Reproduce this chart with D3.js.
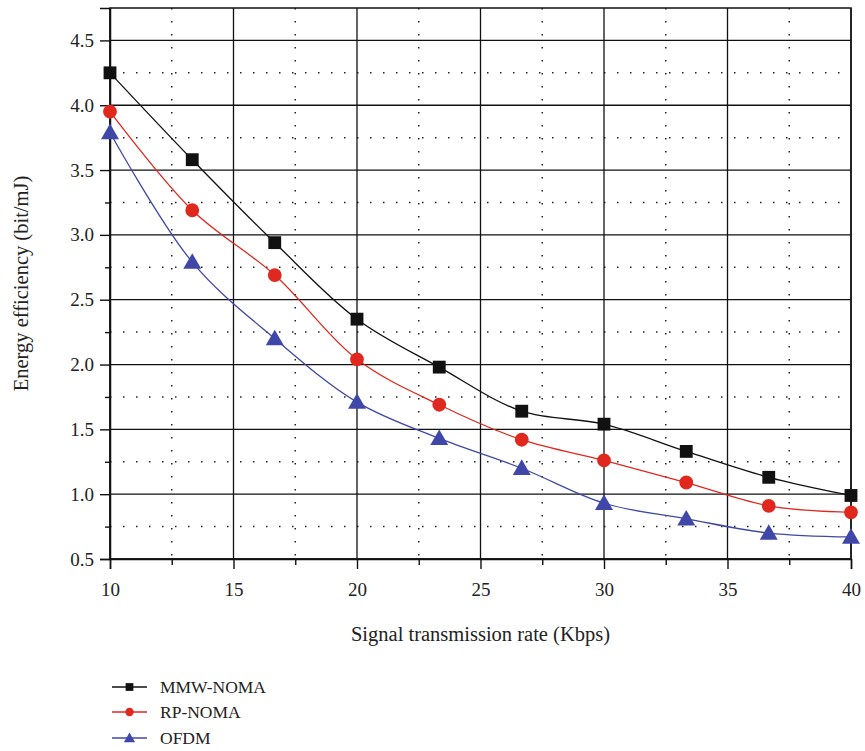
<!DOCTYPE html>
<html>
<head>
<meta charset="utf-8">
<script src="https://cdn.jsdelivr.net/npm/d3@7"></script>
<style>
  body { margin: 0; background: #fff; }
  text { font-family: "Liberation Serif", "DejaVu Serif", serif; fill: #222; }
</style>
</head>
<body>
<div id="chart"></div>
<script>
var rates = [10, 13.33, 16.67, 20, 23.33, 26.67, 30, 33.33, 36.67, 40];
var mmwNoma = [4.25, 3.58, 2.94, 2.35, 1.98, 1.64, 1.54, 1.33, 1.13, 0.99];
var rpNoma = [3.95, 3.19, 2.69, 2.04, 1.69, 1.42, 1.26, 1.09, 0.91, 0.86];
var ofdm = [3.79, 2.79, 2.2, 1.71, 1.43, 1.2, 0.93, 0.81, 0.7, 0.67];
var seriesNames = ['MMW-NOMA', 'RP-NOMA', 'OFDM'];
var xTicks = [10, 15, 20, 25, 30, 35, 40];
var yTicks = [0.5, 1.0, 1.5, 2.0, 2.5, 3.0, 3.5, 4.0, 4.5];

const W = 865, H = 751;
const plotLeft = 110, plotRight = 851, plotTop = 8, plotBottom = 559;

var svg = d3.select('#chart').append('svg')
  .attr('width', W)
  .attr('height', H);

var x = d3.scaleLinear().domain([10, 40]).range([plotLeft, plotRight]);
var y = d3.scaleLinear().domain([0.5, 4.75]).range([plotBottom, plotTop]);

// minor (dotted) grid
var xMinor = d3.range(12.5, 40, 5);
var yMinor = d3.range(0.75, 4.75, 0.5);

svg.selectAll('.vminor').data(xMinor).enter().append('line')
  .attr('x1', (d) => x(d)).attr('x2', (d) => x(d))
  .attr('y1', plotTop).attr('y2', plotBottom)
  .attr('stroke', '#222').attr('stroke-width', 1.5)
  .attr('stroke-dasharray', '1.5,11.5');
svg.selectAll('.hminor').data(yMinor).enter().append('line')
  .attr('x1', plotLeft).attr('x2', plotRight)
  .attr('y1', (d) => y(d)).attr('y2', (d) => y(d))
  .attr('stroke', '#222').attr('stroke-width', 1.5)
  .attr('stroke-dasharray', '1.5,11.5');

// major grid
svg.selectAll('.vmajor').data(xTicks).enter().append('line')
  .attr('x1', (d) => x(d)).attr('x2', (d) => x(d))
  .attr('y1', plotTop).attr('y2', plotBottom)
  .attr('stroke', '#111').attr('stroke-width', 1.3);
svg.selectAll('.hmajor').data(yTicks).enter().append('line')
  .attr('x1', plotLeft).attr('x2', plotRight)
  .attr('y1', (d) => y(d)).attr('y2', (d) => y(d))
  .attr('stroke', '#111').attr('stroke-width', 1.3);

// frame
svg.append('rect')
  .attr('x', plotLeft).attr('y', plotTop)
  .attr('width', plotRight - plotLeft).attr('height', plotBottom - plotTop)
  .attr('fill', 'none').attr('stroke', '#111').attr('stroke-width', 1.5);

// axes
svg.append('g')
  .attr('transform', `translate(0,${plotBottom})`)
  .call(d3.axisBottom(x).tickValues(xTicks).tickSize(10).tickPadding(14).tickFormat(d3.format('d')));
svg.append('g')
  .attr('transform', `translate(0,${plotBottom})`)
  .call(d3.axisBottom(x).tickValues(xMinor).tickSize(6).tickFormat(''))
  .call((g) => g.select('.domain').remove());

svg.append('g')
  .attr('transform', `translate(${plotLeft},0)`)
  .call(d3.axisLeft(y).tickValues(yTicks).tickSize(10).tickPadding(6).tickFormat(d3.format('.1f')));
svg.append('g')
  .attr('transform', `translate(${plotLeft},0)`)
  .call(d3.axisLeft(y).tickValues(yMinor).tickSize(5).tickFormat(''))
  .call((g) => g.select('.domain').remove());

svg.selectAll('.tick line').attr('stroke', '#111').attr('stroke-width', 1.4);
svg.selectAll('.domain').attr('stroke', '#111').attr('stroke-width', 1.5);
svg.selectAll('.tick text')
  .style('font-family', '"Liberation Serif", serif')
  .style('font-size', '19px')
  .attr('fill', '#222');

// axis titles
svg.append('text')
  .attr('x', (plotLeft + plotRight) / 2)
  .attr('y', 641)
  .attr('text-anchor', 'middle')
  .style('font-size', '20.5px')
  .text('Signal transmission rate (Kbps)');
svg.append('text')
  .attr('transform', `translate(28,${(plotTop + plotBottom) / 2}) rotate(-90)`)
  .attr('text-anchor', 'middle')
  .style('font-size', '20.5px')
  .text('Energy efficiency (bit/mJ)');

var colors = ['#111111', '#e0281e', '#3f48a8'];
var allSeries = [mmwNoma, rpNoma, ofdm];
var markers = [d3.symbolSquare, d3.symbolCircle, d3.symbolTriangle];
var markerSize = [165, 150, 140];

var line = d3.line()
  .x((d) => x(d[0]))
  .y((d) => y(d[1]))
  .curve(d3.curveCatmullRom.alpha(0.5));

allSeries.forEach((vals, i) => {
  var pts = rates.map((r, j) => [r, vals[j]]);
  svg.append('path')
    .datum(pts)
    .attr('d', line)
    .attr('fill', 'none')
    .attr('stroke', colors[i])
    .attr('stroke-width', 1.3);
  svg.selectAll(`.m${i}`).data(pts).enter().append('path')
    .attr('class', `m${i}`)
    .attr('transform', (d) => `translate(${x(d[0])},${y(d[1]) + (i == 2 ? 1.5 : 0)})`)
    .attr('d', d3.symbol().type(markers[i]).size(markerSize[i]))
    .attr('fill', colors[i]);
});

// legend
var legendY = [687, 712, 738];
seriesNames.forEach((name, i) => {
  var g = svg.append('g').attr('transform', `translate(0,${legendY[i]})`);
  g.append('line')
    .attr('x1', 112).attr('x2', 147)
    .attr('stroke', colors[i]).attr('stroke-width', 1.3);
  g.append('path')
    .attr('transform', `translate(129.5,${i == 2 ? 1 : 0})`)
    .attr('d', d3.symbol().type(markers[i]).size(i == 0 ? 60 : 55))
    .attr('fill', colors[i]);
  g.append('text')
    .attr('x', 160).attr('y', 6)
    .style('font-size', '17.5px')
    .text(name);
});
</script>
</body>
</html>
